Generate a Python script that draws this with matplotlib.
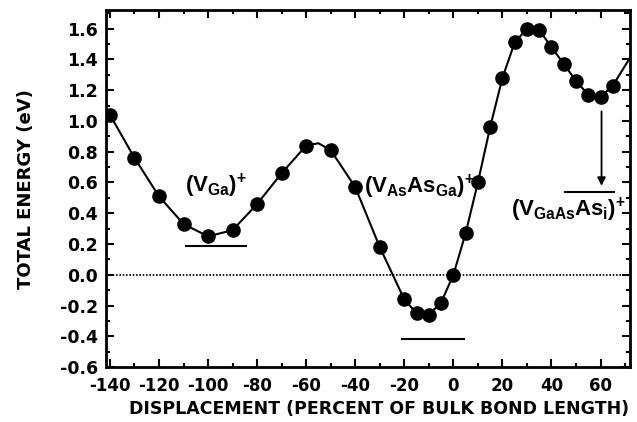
import matplotlib
matplotlib.use("Agg")
import matplotlib.pyplot as plt
from matplotlib.ticker import MultipleLocator

plt.rcParams['font.family'] = ['DejaVu Sans']
plt.rcParams['font.weight'] = 'bold'
plt.rcParams['axes.unicode_minus'] = False
plt.rcParams['mathtext.fontset'] = 'custom'
plt.rcParams['mathtext.rm'] = 'Liberation Sans:bold'
plt.rcParams['mathtext.bf'] = 'Liberation Sans:bold'
plt.rcParams['mathtext.it'] = 'Liberation Sans:bold'

# computed points (displacement %, energy eV)
disp = [-140, -130, -120, -110, -100, -90, -80, -70, -60, -50, -40, -30,
        -20, -15, -10, -5, 0, 5, 10, 15, 20, 25, 30, 35, 40, 45, 50, 55,
        60, 65]
energy = [1.04, 0.76, 0.51, 0.33, 0.25, 0.29, 0.46, 0.66, 0.84, 0.81, 0.57,
          0.18, -0.16, -0.25, -0.26, -0.18, 0.00, 0.27, 0.60, 0.96, 1.28,
          1.51, 1.60, 1.59, 1.48, 1.37, 1.26, 1.17, 1.155, 1.23]

# extra points the drawn curve passes through (no marker)
curve_extra_x = [-55, 72]
curve_extra_y = [0.855, 1.41]

# reference levels (label, x from, x to, level)
levels = [
    (r'$(V_{Ga})^{+}$', -109, -84.5, 0.19),
    (r'$(V_{As}As_{Ga})^{+}$', -21, 4.5, -0.42),
    (r'$(V_{GaAs}As_{i})^{+}$', 45.7, 65.3, 0.54),
]
label_pos = [(-97, 0.58), (-14, 0.57), (47, 0.42)]

fig = plt.figure(figsize=(6.37, 4.22), dpi=100)
ax = fig.add_axes([0.1664, 0.130, 0.8226, 0.846])

pts = sorted(zip(disp + curve_extra_x, energy + curve_extra_y))
cx = [p[0] for p in pts]
cy = [p[1] for p in pts]
ax.plot(cx, cy, color='black', lw=1.5, zorder=2)
ax.plot(disp, energy, 'o', color='black', ms=9.5, zorder=3)

ax.axhline(0, color='black', lw=1.2, ls=(0, (1, 1)), zorder=1)

for (lab, x0, x1, lev), (tx, ty) in zip(levels, label_pos):
    ax.plot([x0, x1], [lev, lev], color='black', lw=1.5)
    ax.text(tx, ty, lab, fontsize=16, ha='center', va='center')

ax.annotate('', xy=(60.4, 0.56), xytext=(60.4, 1.08),
            arrowprops=dict(arrowstyle='-|>', color='black', lw=1.3,
                            mutation_scale=12))

ax.set_xlim(-141.6, 72)
ax.set_ylim(-0.6, 1.72)
ax.xaxis.set_minor_locator(MultipleLocator(10))
ax.yaxis.set_minor_locator(MultipleLocator(0.1))
ax.set_yticks([-0.6, -0.4, -0.2, 0.0, 0.2, 0.4, 0.6, 0.8, 1.0, 1.2, 1.4, 1.6])
ax.set_xticks(list(range(-140, 61, 20)))
ax.tick_params(which='both', direction='in', top=True, right=True,
               width=1.5, labelsize=12)
ax.tick_params(axis='y', labelsize=12.5)
ax.tick_params(which='major', length=6)
ax.tick_params(which='minor', length=3)
ax.tick_params(axis='x', pad=7)
ax.tick_params(axis='y', pad=6)
for lbl in ax.get_xticklabels() + ax.get_yticklabels():
    lbl.set_fontweight('bold')
for s in ax.spines.values():
    s.set_linewidth(2)

ax.set_xlabel('DISPLACEMENT (PERCENT OF BULK BOND LENGTH)', fontsize=12.5,
              fontweight='bold')
ax.xaxis.set_label_coords(0.521, -0.092)
ax.set_ylabel('TOTAL ENERGY (eV)', fontsize=13, fontweight='bold')
ax.yaxis.set_label_coords(-0.135, 0.5)

fig.savefig('out.png', dpi=100)
